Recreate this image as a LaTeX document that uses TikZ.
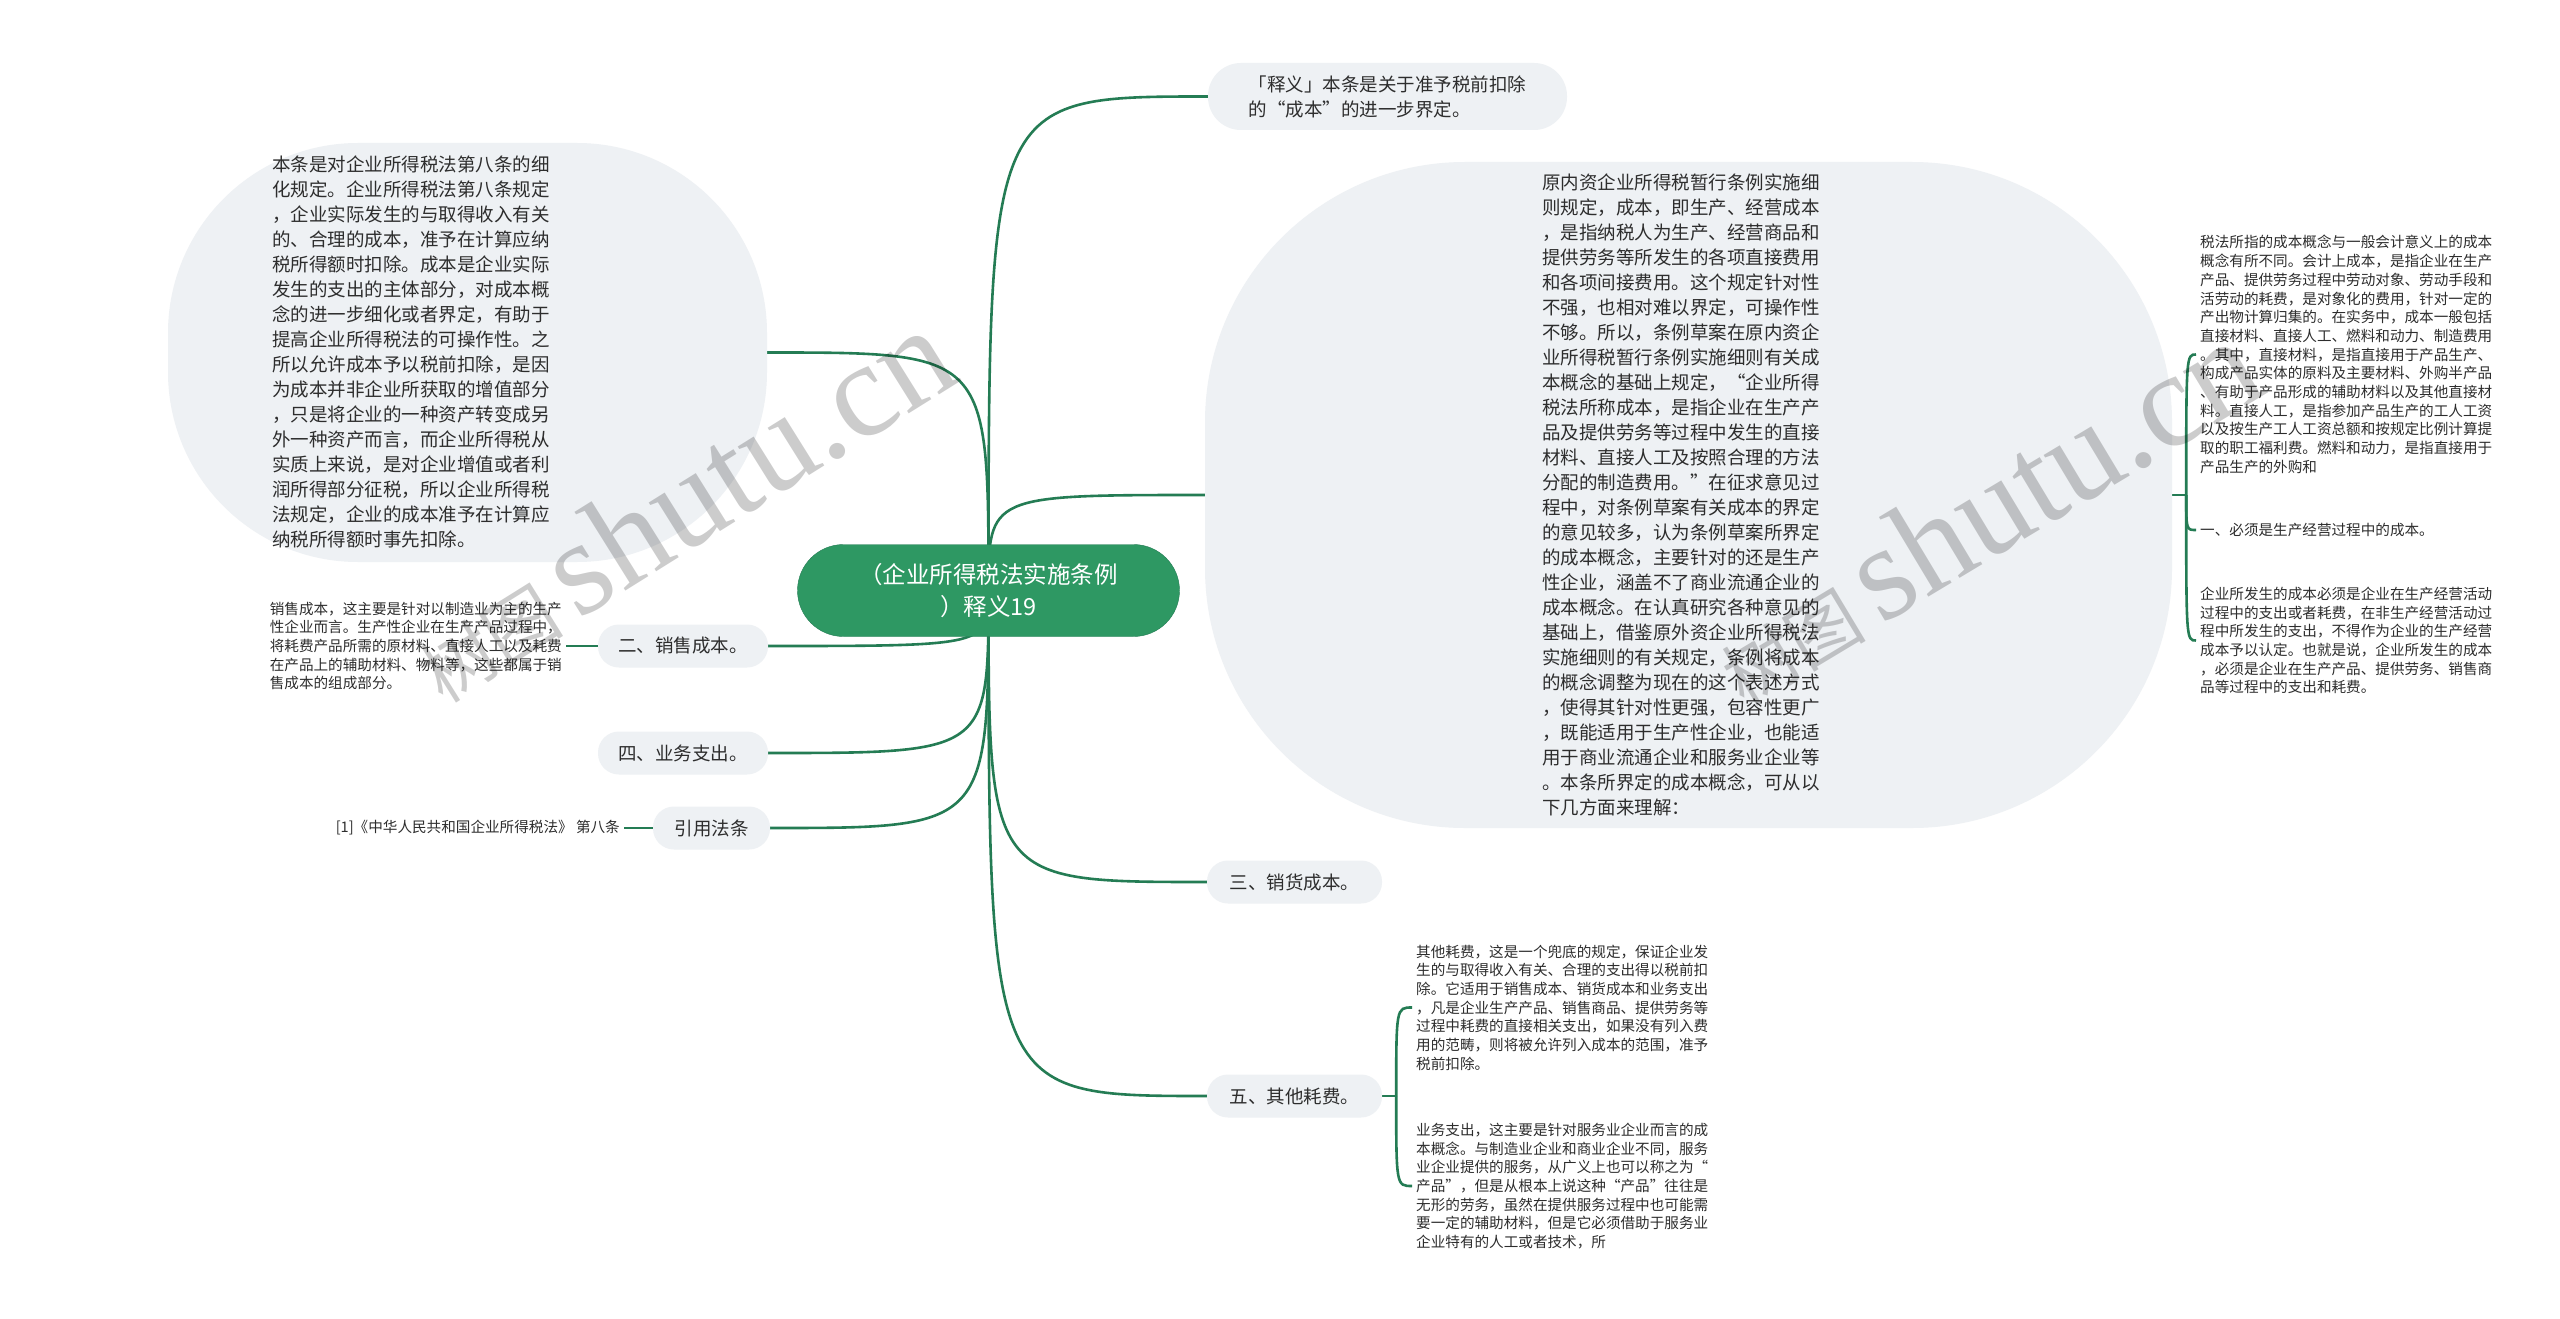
\documentclass[tikz,border=0pt]{standalone}
\usepackage{fontspec}
\setmainfont{Noto Sans CJK SC}
\newfontfamily\wmlatin{Liberation Serif}
\usepackage{tikz}
\usetikzlibrary{backgrounds}
\definecolor{rootgreen}{RGB}{46,152,99}
\definecolor{linkgreen}{RGB}{36,124,84}
\definecolor{bubblegray}{RGB}{238,241,244}
\definecolor{inkgray}{RGB}{45,45,45}

\begin{document}
\begin{tikzpicture}[x=1pt, y=-1pt,
    root/.style={fill=rootgreen, draw=linkgreen, thin, rounded corners=46pt,
      minimum width=382pt, minimum height=92pt, text=white, align=center,
      font=\fontsize{23.5}{32}\selectfont},
    pill/.style={fill=bubblegray, rounded corners=21pt, minimum height=43pt,
      inner sep=0pt, text=inkgray, font=\fontsize{18.5}{25}\selectfont},
    bubble/.style={fill=bubblegray, inner sep=0pt},
    bigtxt/.style={text=inkgray, align=left, inner sep=0pt,
      font=\fontsize{18.5}{25}\selectfont},
    smalltxt/.style={text=inkgray, align=left, inner xsep=4pt, inner ysep=0pt,
      font=\fontsize{14.6}{18.7}\selectfont},
    link/.style={draw=linkgreen, line width=2.6pt},
    wmark/.style={text=black, opacity=0.2, inner sep=0pt,
      font=\fontsize{72}{72}\selectfont}
  ]
  \useasboundingbox (0,0) rectangle (2560,1319);

  \node[root] (root) at (988.5,590.5) {（企业所得税法实施条例\\）释义19};

  \node[pill, rounded corners=33pt, minimum width=359pt, minimum height=67pt,
    align=left] (ptop) at (1387.5,96.5)
    {「释义」本条是关于准予税前扣除\\的“成本”的进一步界定。};

  \node[bubble, rounded corners=190pt, minimum width=599pt,
    minimum height=419pt] (lbub) at (467.5,352.5) {};
  \node[bigtxt] (ltxt) at (411,352) {本条是对企业所得税法第八条的细\\
    化规定。企业所得税法第八条规定\\，企业实际发生的与取得收入有关\\
    的、合理的成本，准予在计算应纳\\税所得额时扣除。成本是企业实际\\
    发生的支出的主体部分，对成本概\\念的进一步细化或者界定，有助于\\
    提高企业所得税法的可操作性。之\\所以允许成本予以税前扣除，是因\\
    为成本并非企业所获取的增值部分\\，只是将企业的一种资产转变成另\\
    外一种资产而言，而企业所得税从\\实质上来说，是对企业增值或者利\\
    润所得部分征税，所以企业所得税\\法规定，企业的成本准予在计算应\\
    纳税所得额时事先扣除。};

  \node[bubble, rounded corners=260pt, minimum width=967pt,
    minimum height=666pt] (rbub) at (1688.5,495) {};
  \node[bigtxt] (rtxt) at (1681,495) {原内资企业所得税暂行条例实施细\\
    则规定，成本，即生产、经营成本\\，是指纳税人为生产、经营商品和\\
    提供劳务等所发生的各项直接费用\\和各项间接费用。这个规定针对性\\
    不强，也相对难以界定，可操作性\\不够。所以，条例草案在原内资企\\
    业所得税暂行条例实施细则有关成\\本概念的基础上规定，“企业所得\\
    税法所称成本，是指企业在生产产\\品及提供劳务等过程中发生的直接\\
    材料、直接人工及按照合理的方法\\分配的制造费用。”在征求意见过\\
    程中，对条例草案有关成本的界定\\的意见较多，认为条例草案所界定\\
    的成本概念，主要针对的还是生产\\性企业，涵盖不了商业流通企业的\\
    成本概念。在认真研究各种意见的\\基础上，借鉴原外资企业所得税法\\
    实施细则的有关规定，条例将成本\\的概念调整为现在的这个表述方式\\
    ，使得其针对性更强，包容性更广\\，既能适用于生产性企业，也能适\\
    用于商业流通企业和服务业企业等\\。本条所界定的成本概念，可从以\\
    下几方面来理解：};

  \node[smalltxt, anchor=west] (r1) at (2196,354.5)
    {税法所指的成本概念与一般会计意义上的成本\\概念有所不同。会计上成本，是指企业在生产\\
    产品、提供劳务过程中劳动对象、劳动手段和\\活劳动的耗费，是对象化的费用，针对一定的\\
    产出物计算归集的。在实务中，成本一般包括\\直接材料、直接人工、燃料和动力、制造费用\\
    。其中，直接材料，是指直接用于产品生产、\\构成产品实体的原料及主要材料、外购半产品\\
    、有助于产品形成的辅助材料以及其他直接材\\料。直接人工，是指参加产品生产的工人工资\\
    以及按生产工人工资总额和按规定比例计算提\\取的职工福利费。燃料和动力，是指直接用于\\
    产品生产的外购和};
  \node[smalltxt, anchor=west] (r2) at (2196,530)
    {一、必须是生产经营过程中的成本。};
  \node[smalltxt, anchor=west] (r3) at (2196,640.5)
    {企业所发生的成本必须是企业在生产经营活动\\过程中的支出或者耗费，在非生产经营活动过\\
    程中所发生的支出，不得作为企业的生产经营\\成本予以认定。也就是说，企业所发生的成本\\
    ，必须是企业在生产产品、提供劳务、销售商\\品等过程中的支出和耗费。};

  \node[pill, minimum width=170pt] (p2) at (683,646) {二、销售成本。};
  \node[smalltxt, anchor=east] (s2) at (566,646)
    {销售成本，这主要是针对以制造业为主的生产\\性企业而言。生产性企业在生产产品过程中，\\
    将耗费产品所需的原材料、直接人工以及耗费\\在产品上的辅助材料、物料等，这些都属于销\\
    售成本的组成部分。};
  \node[pill, minimum width=170pt] (p4) at (683,753) {四、业务支出。};
  \node[pill, minimum width=117pt] (pref) at (711.5,828) {引用法条};
  \node[smalltxt, anchor=east] (sref) at (624,828)
    {[1]《中华人民共和国企业所得税法》 第八条};

  \node[pill, minimum width=175pt] (p3) at (1294.5,882) {三、销货成本。};
  \node[pill, minimum width=175pt] (p5) at (1294.5,1096) {五、其他耗费。};
  \node[smalltxt, anchor=west] (f1) at (1412,1007.5)
    {其他耗费，这是一个兜底的规定，保证企业发\\生的与取得收入有关、合理的支出得以税前扣\\
    除。它适用于销售成本、销货成本和业务支出\\，凡是企业生产产品、销售商品、提供劳务等\\
    过程中耗费的直接相关支出，如果没有列入费\\用的范畴，则将被允许列入成本的范围，准予\\
    税前扣除。};
  \node[smalltxt, anchor=west] (f2) at (1412,1186)
    {业务支出，这主要是针对服务业企业而言的成\\本概念。与制造业企业和商业企业不同，服务\\
    业企业提供的服务，从广义上也可以称之为“\\产品”，但是从根本上说这种“产品”往往是\\
    无形的劳务，虽然在提供服务过程中也可能需\\要一定的辅助材料，但是它必须借助于服务业\\
    企业特有的人工或者技术，所};

  \coordinate (rj) at ([xshift=14pt]rbub.east);
  \coordinate (fj) at ([xshift=14pt]p5.east);

  \begin{scope}[on background layer]
    \fill[white] (0,0) rectangle (2560,1319);
    \foreach \kid in {lbub,p2,p4,pref}
      \draw[link] (root.center) .. controls (root.center |- \kid.east) .. (\kid.east);
    \foreach \kid in {ptop,rbub,p3,p5}
      \draw[link] (root.center) .. controls (root.center |- \kid.west) .. (\kid.west);
    \draw[link] (rbub.east) -- (rj);
    \foreach \kid in {r1,r2,r3}
      \draw[link] (rj) .. controls (rj |- \kid.west) .. (\kid.west);
    \draw[link] (p5.east) -- (fj);
    \foreach \kid in {f1,f2}
      \draw[link] (fj) .. controls (fj |- \kid.west) .. (\kid.west);
    \draw[link] (p2.west) -- (s2.east);
    \draw[link] (pref.west) -- (sref.east);
  \end{scope}

  \node[wmark, rotate=32] (wmleft) at (680,505)
    {树图\hspace{16pt}{\wmlatin\fontsize{135}{135}\selectfont shutu.cn}};
  \node[wmark, rotate=31] (wmright) at (1985,512)
    {树图\hspace{16pt}{\wmlatin\fontsize{135}{135}\selectfont shutu.cn}};
\end{tikzpicture}
\end{document}
